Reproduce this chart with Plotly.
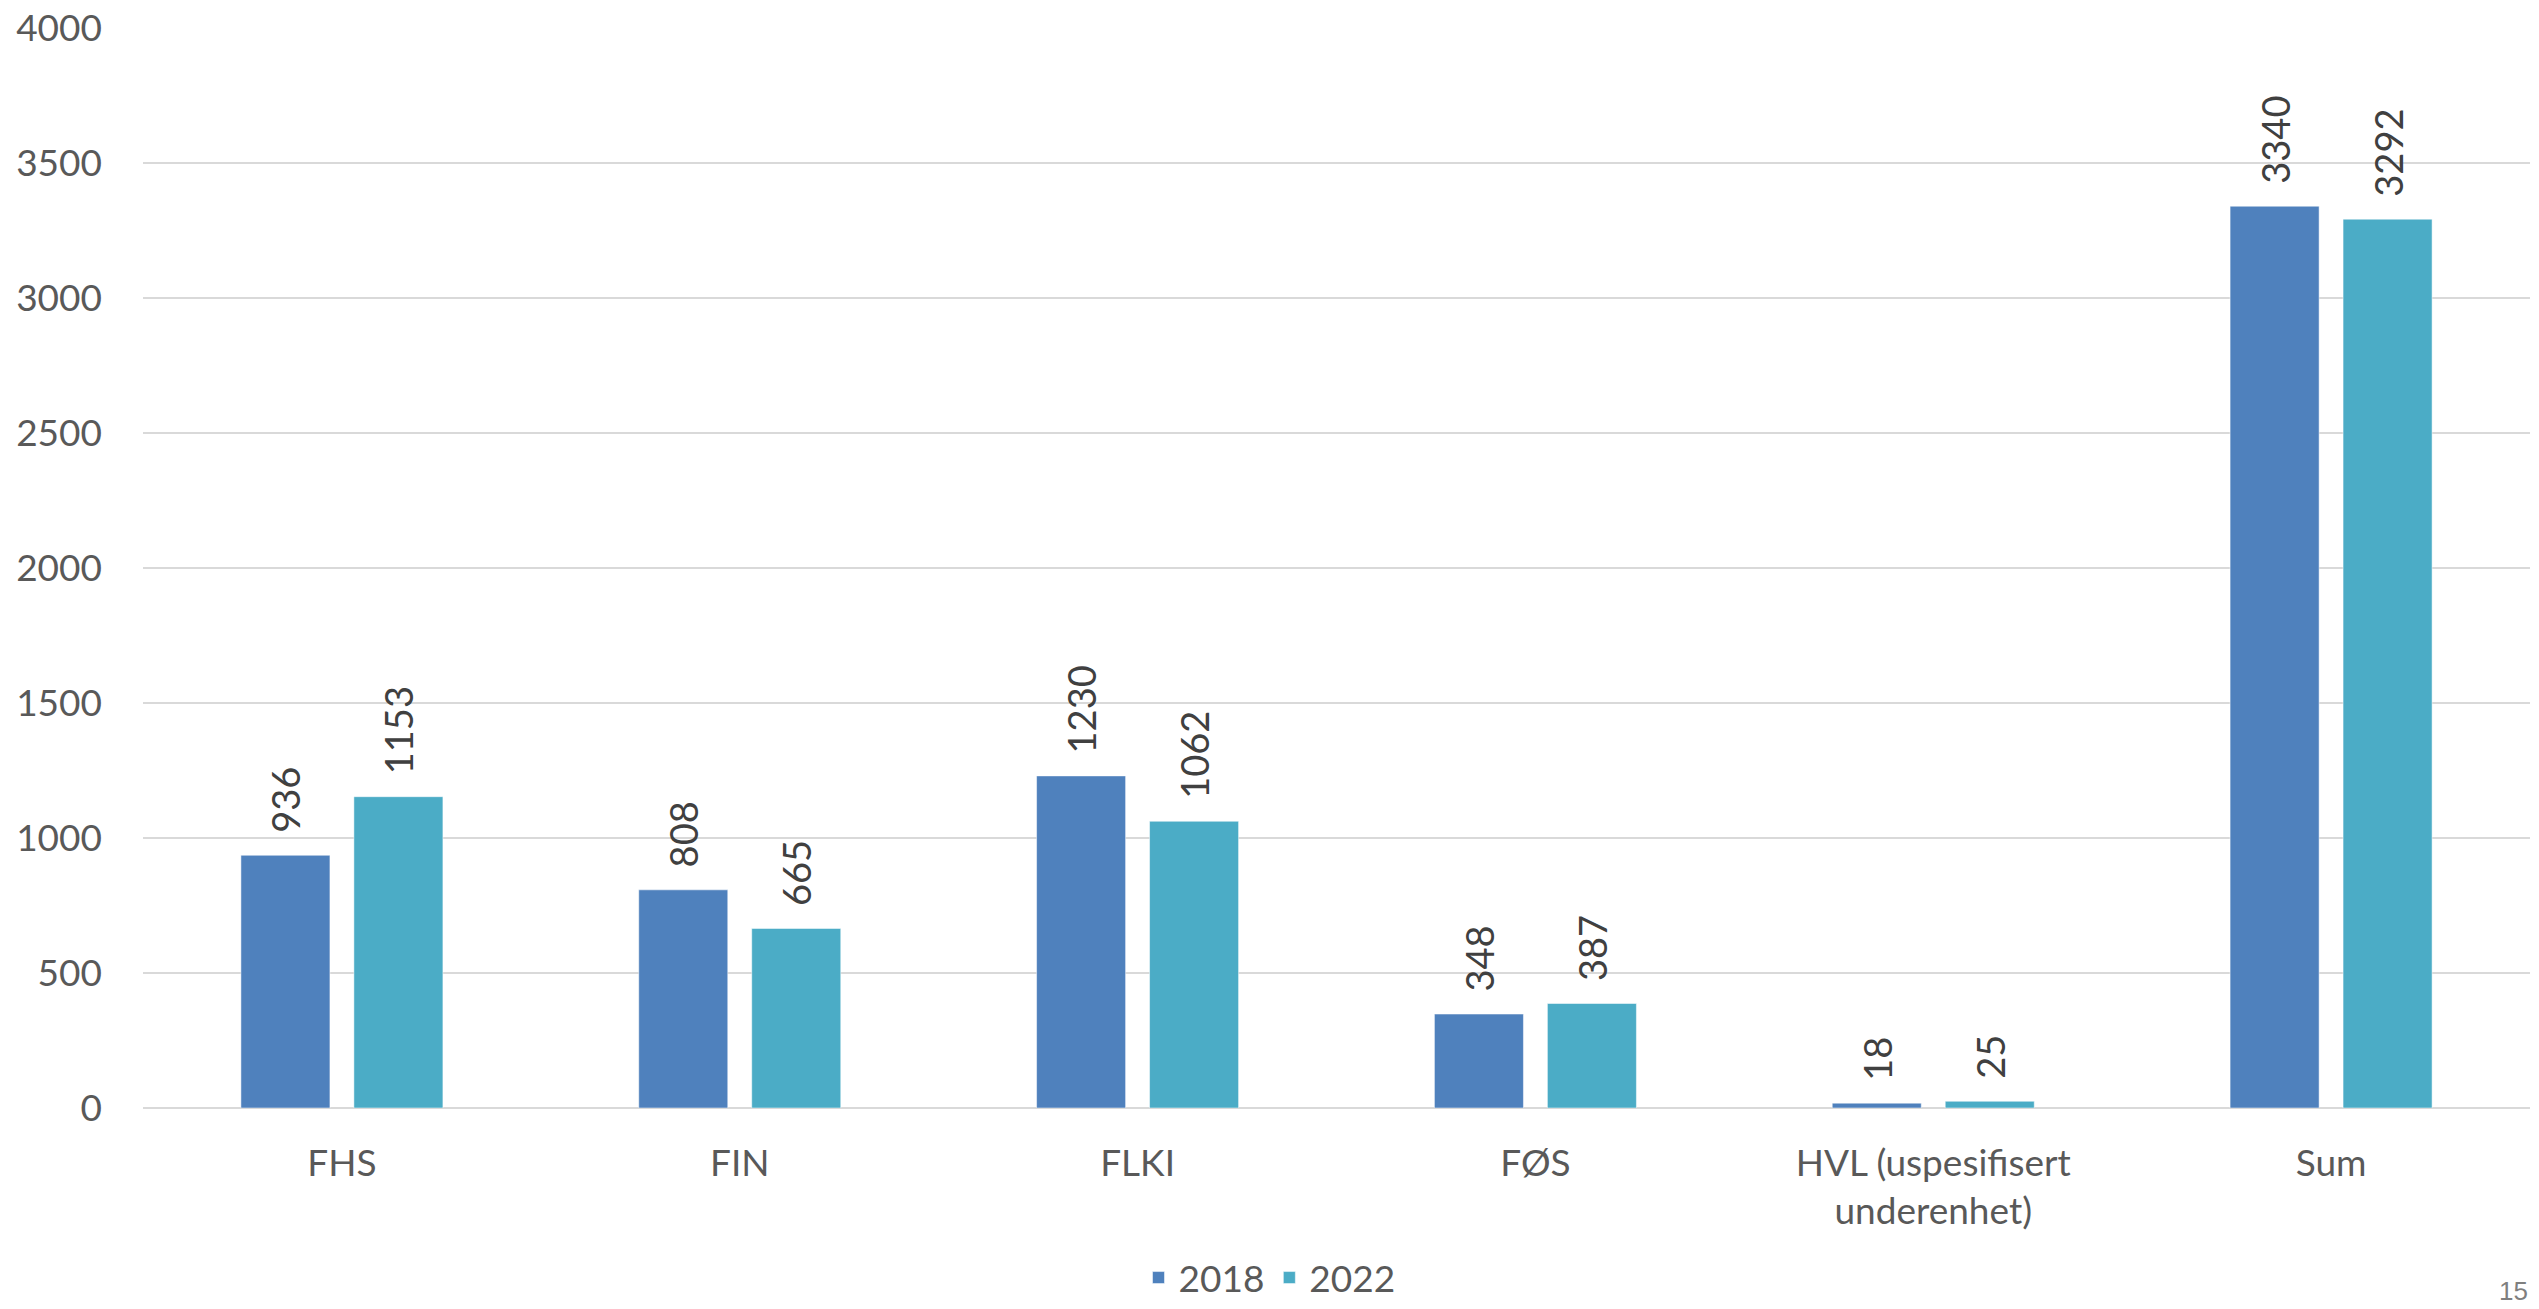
import plotly.graph_objects as go

categories = ["FHS", "FIN", "FLKI", "FØS", "HVL (uspesifisert<br>underenhet)", "Sum"]
values_2018 = [936, 808, 1230, 348, 18, 3340]
values_2022 = [1153, 665, 1062, 387, 25, 3292]
series_names = ["2018", "2022"]
colors = ["#4F81BD", "#4BACC6"]

FONT = "Lato"
fig = go.Figure()

for name, vals, color in zip(series_names, [values_2018, values_2022], colors):
    fig.add_bar(
        x=categories,
        y=vals,
        name=name,
        marker=dict(color=color, line=dict(color="rgba(255,255,255,0.5)", width=1)),
        text=vals,
        texttemplate="\u00a0\u00a0%{text}",
        textposition="outside",
        textangle=-90,
        constraintext="none",
        cliponaxis=False,
        outsidetextfont=dict(family=FONT, size=38, color="#404040"),
    )

fig.update_layout(
    width=2539,
    height=1309,
    barmode="group",
    bargap=0.432,
    bargroupgap=0.212,
    plot_bgcolor="white",
    paper_bgcolor="white",
    font=dict(family=FONT, size=37, color="#595959"),
    margin=dict(l=143, r=9, t=28, b=201),
    legend=dict(
        orientation="h",
        xref="container",
        x=0.5,
        xanchor="center",
        y=-0.009,
        yref="container",
        yanchor="bottom",
        font=dict(size=37, color="#595959"),
        itemwidth=30,
    ),
)

fig.update_yaxes(
    range=[0, 4000],
    dtick=500,
    showgrid=True,
    gridcolor="#D9D9D9",
    gridwidth=2,
    zeroline=True,
    zerolinecolor="#D9D9D9",
    zerolinewidth=2,
    showline=False,
    ticklabelstandoff=40,
    automargin=False,
)
fig.update_xaxes(
    showgrid=False,
    showline=False,
    ticklabelstandoff=30,
    automargin=False,
)

# page number in the lower right corner
fig.add_annotation(
    text="15",
    xref="paper",
    yref="paper",
    x=1.0,
    y=-0.169,
    xanchor="right",
    yanchor="middle",
    showarrow=False,
    font=dict(family="Liberation Sans", size=26, color="#7F7F7F"),
)

# the page's default body margin would shift the figure by 8px
fig.write_html(
    "out.html",
    config={"displayModeBar": False},
    post_script="document.body.style.margin='0';document.body.style.overflow='hidden';",
)
